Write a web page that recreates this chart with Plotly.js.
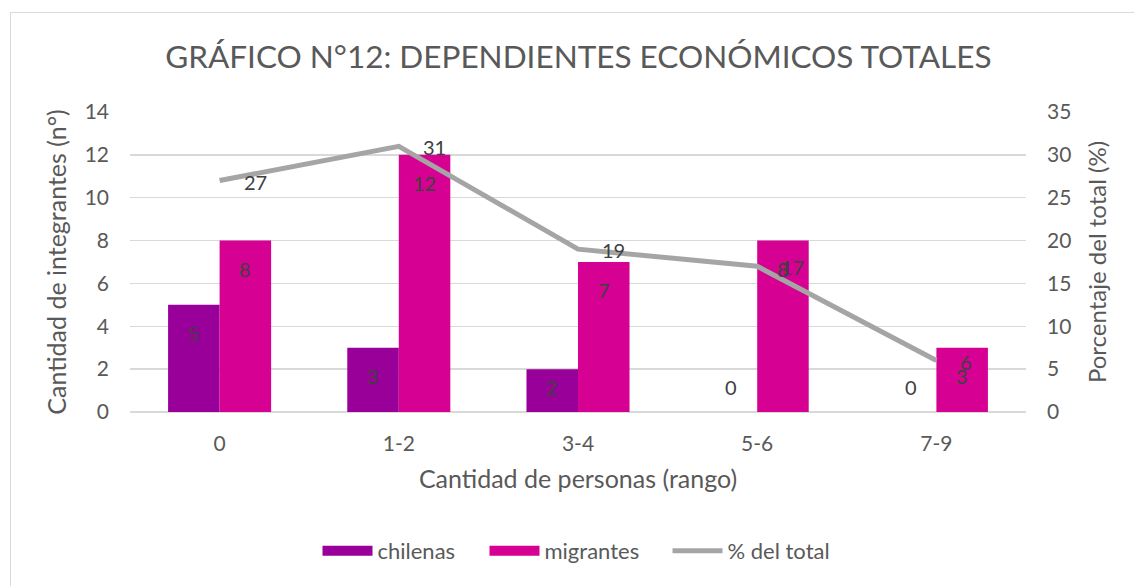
<!DOCTYPE html>
<html>
<head>
<meta charset="utf-8">
<script src="https://cdn.plot.ly/plotly-3.0.1.min.js"></script>
<style>
  html, body { margin: 0; padding: 0; background: #fff; }
  #wrap { position: relative; width: 1134px; height: 586px; }
  #chart { position: absolute; left: 0; top: 0; width: 1134px; height: 586px; }
  #frame { position: absolute; left: 10px; top: 12px; width: 1140px; height: 590px;
           border: 1.5px solid #d9d9d9; pointer-events: none; box-sizing: border-box; }
</style>
</head>
<body>
<div id="wrap"><div id="chart"></div><div id="frame"></div></div>
<script>
// ---- data ----
const categories = ["0", "1-2", "3-4", "5-6", "7-9"];
const chilenas = [5, 3, 2, 0, 0];
const migrantes = [8, 12, 7, 8, 3];
const pctTotal = [27, 31, 19, 17, 6];

// ---- style ----
const FONT = "Lato, 'Open Sans', sans-serif";
const TXT = "#595959";
const LBL = "#404040";
const COL_CHI = "#990099", COL_MIG = "#D60093", COL_PCT = "#A5A5A5";
const W = 1134, H = 586;
const M = { l: 130, r: 108, t: 112, b: 174 };
const Y1MAX = 14, Y2MAX = 35;
const BARGAP = 0.425;
const plotW = W - M.l - M.r, plotH = H - M.t - M.b;
const pxPerUnit = plotH / Y1MAX;
const barOffset = (plotW / categories.length) * (1 - BARGAP) / 4;

const traces = [
  { type: "bar", name: "chilenas", x: categories, y: chilenas, showlegend: false,
    marker: { color: COL_CHI }, hoverinfo: "skip" },
  { type: "bar", name: "migrantes", x: categories, y: migrantes, showlegend: false,
    marker: { color: COL_MIG }, hoverinfo: "skip" },
  { type: "scatter", mode: "lines", name: "% del total", x: categories, y: pctTotal,
    yaxis: "y2", line: { color: COL_PCT, width: 5 }, hoverinfo: "skip", showlegend: false },
  // legend entries (wide swatches, as in the reference)
  { type: "scatter", mode: "lines", name: "chilenas", x: [null], y: [null], legendwidth: 102,
    line: { color: COL_CHI, width: 14 }, hoverinfo: "skip" },
  { type: "scatter", mode: "lines", name: "migrantes", x: [null], y: [null], legendwidth: 118,
    line: { color: COL_MIG, width: 14 }, hoverinfo: "skip" },
  { type: "scatter", mode: "lines", name: "% del total", x: [null], y: [null], yaxis: "y2",
    legendwidth: 106, line: { color: COL_PCT, width: 5 }, hoverinfo: "skip" }
];

const annotations = [];
function barLabel(vals, sign) {
  vals.forEach((v, i) => {
    annotations.push({
      xref: "x", yref: "y", x: i, y: v, text: String(v), showarrow: false,
      xanchor: "center", yanchor: "middle",
      xshift: sign * barOffset,
      yshift: -Math.min(28, v * pxPerUnit - 25),
      font: { family: FONT, size: 20, color: LBL }
    });
  });
}
barLabel(chilenas, -1);
barLabel(migrantes, 1);
pctTotal.forEach((v, i) => {
  annotations.push({
    xref: "x", yref: "y2", x: i, y: v, text: String(v), showarrow: false,
    xanchor: "left", yanchor: "middle", xshift: 22, yshift: -1,
    font: { family: FONT, size: 20, color: LBL }
  });
});

const layout = {
  width: W, height: H,
  margin: M,
  paper_bgcolor: "rgba(0,0,0,0)", plot_bgcolor: "rgba(0,0,0,0)",
  font: { family: FONT, color: TXT },
  title: { text: "GRÁFICO N°12: DEPENDIENTES ECONÓMICOS TOTALES",
           font: { family: FONT, size: 31.5, color: TXT },
           x: 0.51, xanchor: "center", y: 1 - 57 / H, yanchor: "middle", yref: "container" },
  barmode: "group", bargap: BARGAP, bargroupgap: 0,
  xaxis: { type: "category", showgrid: false, showline: false, zeroline: false,
           ticks: "", ticklabelstandoff: 17,
           tickfont: { family: FONT, size: 21, color: TXT },
           title: { text: "Cantidad de personas (rango)", standoff: 16,
                    font: { family: FONT, size: 25, color: TXT } } },
  yaxis: { range: [0, Y1MAX], dtick: 2, showgrid: true, gridcolor: "#d9d9d9", gridwidth: 1.5,
           zeroline: true, zerolinecolor: "#d9d9d9", zerolinewidth: 1.5,
           ticks: "", ticklabelstandoff: 20,
           tickfont: { family: FONT, size: 21, color: TXT },
           title: { text: "Cantidad de integrantes (n°)", standoff: 10,
                    font: { family: FONT, size: 25, color: TXT } } },
  yaxis2: { range: [0, Y2MAX], dtick: 5, overlaying: "y", side: "right",
            showgrid: false, zeroline: false, ticks: "", ticklabelstandoff: 20,
            tickfont: { family: FONT, size: 21, color: TXT },
            title: { text: "Porcentaje del total (%)", standoff: 18,
                     font: { family: FONT, size: 24, color: TXT } } },
  showlegend: true,
  legend: { orientation: "h", x: 0.5, xanchor: "center",
            y: -(551 - (H - M.b)) / plotH, yanchor: "middle",
            font: { family: FONT, size: 22, color: TXT },
            itemwidth: 50, traceorder: "normal" },
  annotations: annotations
};

Plotly.newPlot("chart", traces, layout, { staticPlot: true, displayModeBar: false });
</script>
</body>
</html>
